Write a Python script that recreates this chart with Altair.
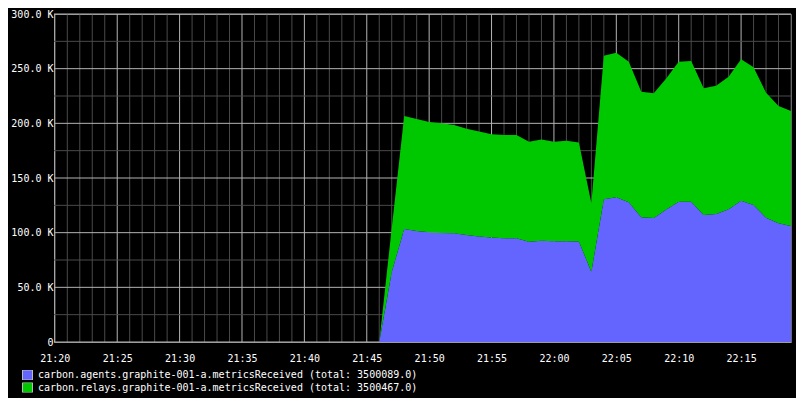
import altair as alt
import pandas as pd

# ---- data (values in thousands) ----
times = ["21:46", "21:47", "21:48", "21:49", "21:50", "21:51", "21:52", "21:53", "21:54",
         "21:55", "21:56", "21:57", "21:58", "21:59", "22:00", "22:01", "22:02", "22:03",
         "22:04", "22:05", "22:06", "22:07", "22:08", "22:09", "22:10", "22:11", "22:12",
         "22:13", "22:14", "22:15", "22:16", "22:17", "22:18", "22:19"]
agents = [0, 64, 103.3, 101.6, 100.3, 99.7, 99.4, 97.8, 96.5,
          95.5, 94.8, 94.8, 91.7, 92.6, 92.2, 92.2, 92.0, 64.3,
          130.5, 132.3, 127.8, 114.0, 113.5, 121.2, 128.3, 128.3, 116.2,
          117.1, 121.4, 129.2, 125.3, 113.7, 108.6, 106.1]
relays = [0, 40, 103.4, 102.4, 100.9, 100.3, 99.1, 97.2, 96.0,
          94.5, 94.5, 94.5, 91.5, 92.5, 91.0, 91.9, 90.4, 62.7,
          131.3, 132.3, 128.6, 115.0, 114.1, 119.8, 128.1, 128.7, 115.8,
          117.3, 121.3, 129.4, 126.0, 114.3, 107.3, 105.2]
series_names = ["carbon.agents.graphite-001-a.metricsReceived (total: 3500089.0)",
                "carbon.relays.graphite-001-a.metricsReceived (total: 3500467.0)"]
series_colors = ["#6464ff", "#00c800"]
x_tick_labels = ["21:20", "21:25", "21:30", "21:35", "21:40", "21:45",
                 "21:50", "21:55", "22:00", "22:05", "22:10", "22:15"]
y_ticks = [0, 50, 100, 150, 200, 250, 300]
y_minor = [25, 75, 125, 175, 225, 275]

DAY = "2013-01-01T"

rows = []
for i, t in enumerate(times):
    rows.append({"time": DAY + t + ":00", "series": series_names[0], "value": agents[i], "ord": 0})
    rows.append({"time": DAY + t + ":00", "series": series_names[1], "value": relays[i], "ord": 1})
df = pd.DataFrame(rows)

# grid minutes 21:20 .. 22:19
grid_rows = []
for k in range(60):
    h = 21 + (20 + k) // 60
    m = (20 + k) % 60
    grid_rows.append({"time": f"{DAY}{h:02d}:{m:02d}:00", "major": (m % 5 == 0)})
vgrid = pd.DataFrame(grid_rows)
hgrid = pd.DataFrame({"v": y_ticks + y_minor,
                      "major": [True] * len(y_ticks) + [False] * len(y_minor)})

x_domain = [alt.DateTime(year=2013, month=1, date=1, hours=21, minutes=19, seconds=56),
            alt.DateTime(year=2013, month=1, date=1, hours=22, minutes=19, seconds=0)]
x_values = [alt.DateTime(year=2013, month=1, date=1, hours=int(s[:2]), minutes=int(s[3:]))
            for s in x_tick_labels]

xscale = alt.Scale(domain=x_domain)
yscale = alt.Scale(domain=[0, 300], nice=False)

FONT = "DejaVu Sans Mono"

x_axis = alt.Axis(values=x_values, format="%H:%M", title=None, grid=False,
                  ticks=False, domain=False, labelPadding=11, labelFont=FONT,
                  labelFontSize=10, labelColor="#ffffff", labelFlush=False)
y_axis = alt.Axis(values=y_ticks, title=None, grid=False, ticks=False, domain=False,
                  labelPadding=1, labelFont=FONT, labelFontSize=10,
                  labelColor="#ffffff",
                  labelExpr="datum.value == 0 ? '0' : format(datum.value, '.1f') + ' K'")

gridcolor = alt.Scale(domain=[True, False], range=["#b4b4b4", "#4a4a4a"])

vrules = alt.Chart(vgrid).mark_rule(strokeWidth=1).encode(
    x=alt.X("time:T", scale=xscale, axis=x_axis),
    color=alt.Color("major:N", scale=gridcolor, legend=None),
)
hrules = alt.Chart(hgrid).mark_rule(strokeWidth=1).encode(
    y=alt.Y("v:Q", scale=yscale, axis=y_axis),
    color=alt.Color("major:N", scale=gridcolor, legend=None),
)

areas = alt.Chart(df).mark_area(interpolate="linear", opacity=1).encode(
    x=alt.X("time:T", scale=xscale, axis=x_axis),
    y=alt.Y("value:Q", stack="zero", scale=yscale, axis=y_axis),
    color=alt.Color("series:N",
                    scale=alt.Scale(domain=series_names, range=series_colors),
                    legend=alt.Legend(title=None, orient="none", legendX=-32, legendY=356,
                                      direction="vertical", symbolType="square",
                                      symbolSize=100, symbolStrokeColor="#bbbbbb",
                                      symbolStrokeWidth=1, symbolOpacity=1,
                                      labelFont=FONT, labelFontSize=10, labelColor="#ffffff",
                                      labelLimit=0, labelOffset=5, rowPadding=2.6,
                                      clipHeight=10)),
    order=alt.Order("ord:Q", sort="ascending"),
)

chart = alt.layer(vrules, hrules, areas).resolve_scale(color="independent").properties(
    width=737, height=328,
    padding={"left": 46, "top": 6, "right": 5, "bottom": 56},
    autosize=alt.AutoSizeParams(type="none"),
    background="#000000",
).configure_view(stroke="#888888", strokeWidth=1)

chart.save("out.html", embed_options={"renderer": "svg", "actions": False})
